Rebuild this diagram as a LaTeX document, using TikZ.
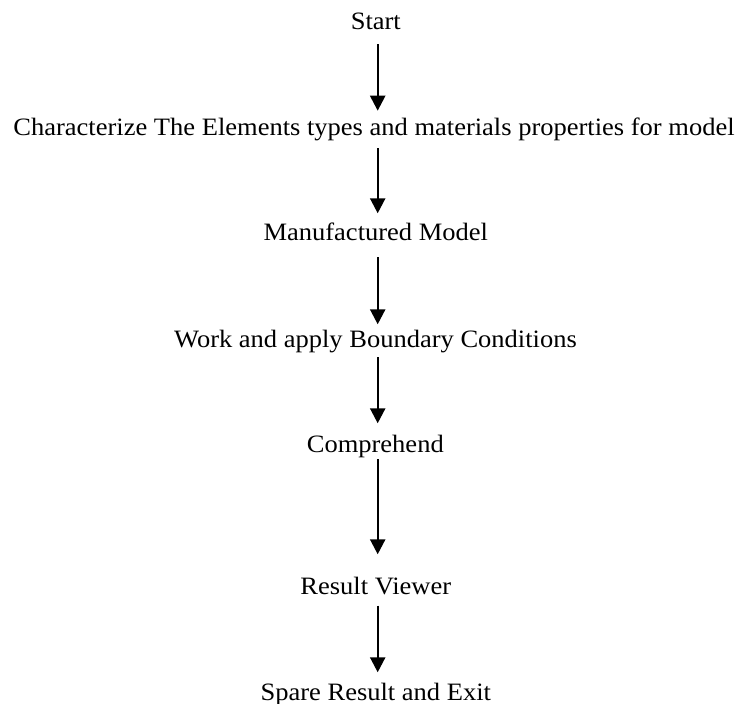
\documentclass[tikz,border=0pt]{standalone}
\usepackage{fontspec}
\setmainfont[FakeStretch=1.06]{Liberation Serif}
\usetikzlibrary{arrows.meta,calc}
\begin{document}
\begin{tikzpicture}[x=1pt,y=1pt,
  lbl/.style={anchor=base,inner sep=0pt,font=\fontsize{25}{30}\selectfont},
  arr/.style={line width=2.4pt,-{Triangle[width=15pt,length=15pt]}}]
\useasboundingbox (0,0) rectangle (740,-704);
\coordinate (X) at (377.7,0);
\node[lbl] (s1) at (375.8,-29.3) {Start};
\node[lbl] (s2) at (374,-135) {Characterize The Elements types and materials properties for model};
\node[lbl] (s3) at (375.8,-240.7) {Manufactured Model};
\node[lbl] (s4) at (375.5,-347.3) {Work and apply Boundary Conditions};
\node[lbl] (s5) at (375.3,-452.7) {Comprehend};
\node[lbl] (s6) at (375.8,-594.3) {Result Viewer};
\node[lbl] (s7) at (375.8,-700) {Spare Result and Exit};
\draw[arr] ($(s1.base -| X)+(0,-15)$) -- ($(s2.base -| X)+(0,24.3)$);
\draw[arr] ($(s2.base -| X)+(0,-13.3)$) -- ($(s3.base -| X)+(0,27.4)$);
\draw[arr] ($(s3.base -| X)+(0,-16.6)$) -- ($(s4.base -| X)+(0,23)$);
\draw[arr] ($(s4.base -| X)+(0,-10)$) -- ($(s5.base -| X)+(0,29.4)$);
\draw[arr] ($(s5.base -| X)+(0,-6.6)$) -- ($(s6.base -| X)+(0,40)$);
\draw[arr] ($(s6.base -| X)+(0,-11.4)$) -- ($(s7.base -| X)+(0,27.7)$);
\end{tikzpicture}
\end{document}
